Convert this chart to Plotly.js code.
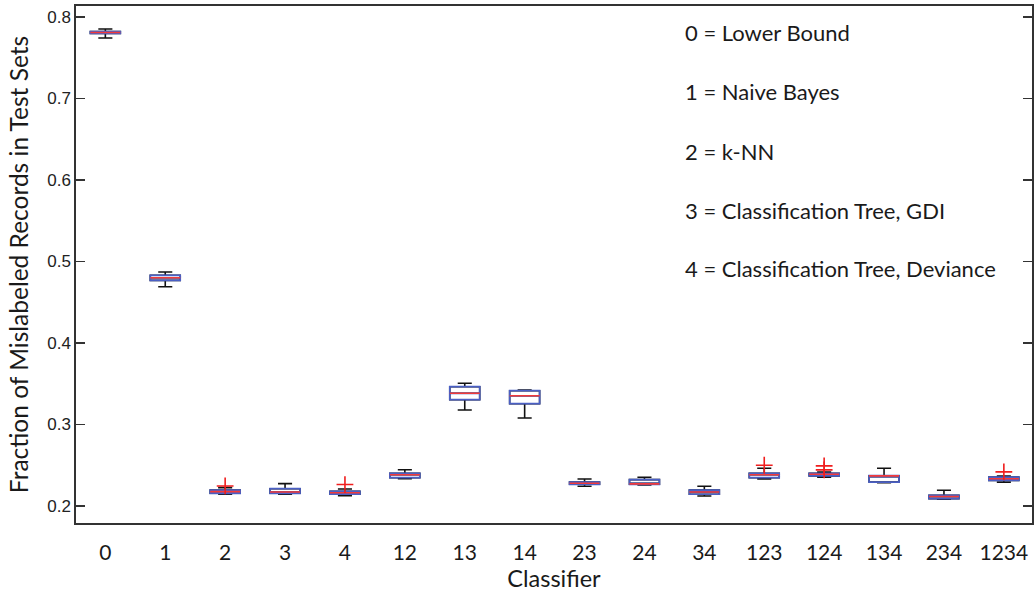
<!DOCTYPE html>
<html>
<head>
<meta charset="utf-8">
<script src="https://cdn.plot.ly/plotly-3.0.1.min.js"></script>
<style>
  html, body { margin: 0; padding: 0; background: #ffffff; }
  #chart { width: 1034px; height: 595px; }
</style>
</head>
<body>
<div id="chart"></div>
<script>
// Classifier labels (x categories)
const classifiers = ["0", "1", "2", "3", "4", "12", "13", "14", "23", "24", "34", "123", "124", "134", "234", "1234"];

// Box statistics
const lowerWhisker = [0.7742, 0.4691, 0.2144, 0.2144, 0.2126, 0.2335, 0.3178, 0.3080, 0.2242, 0.2258, 0.2123, 0.2331, 0.2352, 0.2286, 0.2082, 0.2291];
const q1Values     = [0.7798, 0.4769, 0.2156, 0.2156, 0.2144, 0.2347, 0.3304, 0.3255, 0.2266, 0.2266, 0.2144, 0.2347, 0.2368, 0.2294, 0.2090, 0.2315];
const medianValues = [0.7810, 0.4801, 0.2176, 0.2172, 0.2163, 0.2384, 0.3383, 0.3353, 0.2279, 0.2272, 0.2172, 0.2384, 0.2389, 0.2370, 0.2117, 0.2335];
const q3Values     = [0.7822, 0.4831, 0.2196, 0.2212, 0.2180, 0.2401, 0.3464, 0.3415, 0.2294, 0.2323, 0.2196, 0.2401, 0.2401, 0.2372, 0.2131, 0.2356];
const upperWhisker = [0.7853, 0.4871, 0.2225, 0.2274, 0.2209, 0.2445, 0.3506, 0.3423, 0.2331, 0.2352, 0.2242, 0.2463, 0.2417, 0.2463, 0.2193, 0.2366];

// Outliers (red +)
const outlierClassifier = ["2", "4", "123", "124", "124", "1234"];
const outlierValues     = [0.2246, 0.2263, 0.2500, 0.2492, 0.2443, 0.2419];

// Legend-like notes
const noteLines = ["0 = Lower Bound", "1 = Naive Bayes", "2 = k-NN", "3 = Classification Tree, GDI", "4 = Classification Tree, Deviance"];

const FONT = "Lato, 'Open Sans', sans-serif";
const BOX_W = 0.5;
const traces = [
  { // whiskers (black)
    type: "box", x: classifiers,
    q1: q1Values, median: medianValues, q3: q3Values,
    lowerfence: lowerWhisker, upperfence: upperWhisker,
    width: BOX_W, whiskerwidth: 0.47, boxpoints: false,
    line: { color: "#111111", width: 1.6 }, fillcolor: "rgba(0,0,0,0)",
    showlegend: false, hoverinfo: "skip"
  },
  { // box outline (blue)
    type: "box", x: classifiers,
    q1: q1Values, median: medianValues, q3: q3Values,
    lowerfence: q1Values, upperfence: q3Values,
    width: BOX_W, whiskerwidth: 0, boxpoints: false,
    line: { color: "#4a5fc4", width: 1.7 }, fillcolor: "rgba(255,255,255,0)",
    showlegend: false, hoverinfo: "skip"
  },
  { // median (red)
    type: "box", x: classifiers,
    q1: medianValues, median: medianValues, q3: medianValues,
    lowerfence: medianValues, upperfence: medianValues,
    width: BOX_W, whiskerwidth: 0, boxpoints: false,
    line: { color: "#f23a3a", width: 1.6 }, fillcolor: "rgba(0,0,0,0)",
    showlegend: false, hoverinfo: "skip"
  },
  { // outliers
    type: "scatter", mode: "markers", x: outlierClassifier, y: outlierValues,
    marker: { symbol: "cross-thin-open", size: 12, color: "#f01e1e", line: { color: "#f01e1e", width: 1.6 } },
    showlegend: false, hoverinfo: "skip"
  }
];

const noteY = [0.948, 0.834, 0.7195, 0.6054, 0.4913];
const annotations = noteLines.map((t, i) => ({
  text: t, xref: "paper", yref: "paper", x: 0.635, y: noteY[i],
  xanchor: "left", yanchor: "middle", showarrow: false,
  font: { family: FONT, size: 22, color: "#1a1a1a" }
}));

const layout = {
  width: 1034, height: 595,
  margin: { l: 76, r: 2, t: 6, b: 72 },
  paper_bgcolor: "#ffffff", plot_bgcolor: "#ffffff",
  boxmode: "overlay",
  hovermode: false,
  showlegend: false,
  xaxis: {
    type: "category",
    categoryorder: "array", categoryarray: classifiers,
    range: [-0.49, 15.47],
    showgrid: false, zeroline: false,
    showline: true, linecolor: "#333333", linewidth: 1.6, mirror: true,
    ticks: "", ticklabelstandoff: 10,
    tickfont: { family: FONT, size: 21, color: "#1a1a1a" },
    title: { text: "Classifier", standoff: 6,
      font: { family: FONT, size: 23.5, color: "#1a1a1a" } }
  },
  yaxis: {
    range: [0.17914, 0.8135],
    tickvals: [0.2, 0.3, 0.4, 0.5, 0.6, 0.7, 0.8],
    ticktext: ["0.2", "0.3", "0.4", "0.5", "0.6", "0.7", "0.8"],
    showgrid: false, zeroline: false,
    showline: true, linecolor: "#333333", linewidth: 1.6, mirror: "ticks",
    ticks: "inside", ticklen: 9, tickwidth: 1.3, tickcolor: "#333333",
    tickfont: { family: "'Liberation Sans', Arial, sans-serif", size: 17, color: "#222222" },
    title: { text: "Fraction of Mislabeled Records in Test Sets", standoff: 12,
      font: { family: FONT, size: 24.5, color: "#1a1a1a" } }
  },
  annotations: annotations
};

Plotly.newPlot("chart", traces, layout, { staticPlot: true, displayModeBar: false });
</script>
</body>
</html>
